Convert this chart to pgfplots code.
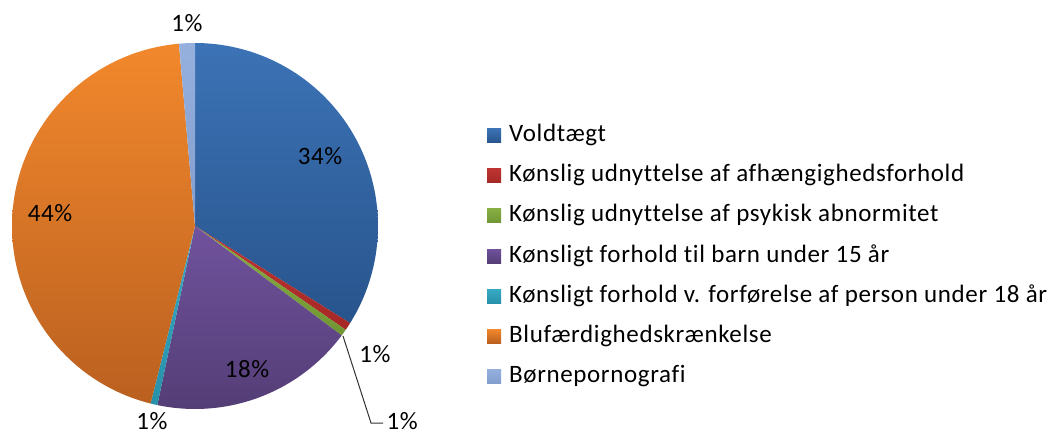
\documentclass[border=0pt]{standalone}
\usepackage{fontspec}
\setmainfont{Carlito}
\newfontfamily\legfont[LetterSpace=2.5, Ligatures={NoCommon}]{Carlito}
\usepackage{pgfplots}
\usepackage{pgfplotstable}
\pgfplotsset{compat=1.18}

% share of each category in percent, clockwise from 12 o'clock
\pgfplotstableread{
share
33.9
0.7
0.6
18.1
0.6
44.7
1.4
}\piedata

\definecolor{blueT}{RGB}{60,115,182}
\definecolor{blueB}{RGB}{40,84,140}
\definecolor{redT}{RGB}{190,52,50}
\definecolor{redB}{RGB}{165,40,38}
\definecolor{greenT}{RGB}{135,175,68}
\definecolor{greenB}{RGB}{112,150,52}
\definecolor{purpT}{RGB}{112,82,157}
\definecolor{purpB}{RGB}{84,62,118}
\definecolor{cyanT}{RGB}{55,170,195}
\definecolor{cyanB}{RGB}{40,145,170}
\definecolor{oranT}{RGB}{242,136,44}
\definecolor{oranB}{RGB}{186,96,32}
\definecolor{lblueT}{RGB}{150,176,222}
\definecolor{lblueB}{RGB}{130,158,205}

\newcommand{\cx}{195}
\newcommand{\cy}{211}
\newcommand{\rr}{183}
\newcommand{\lblfont}{\legfont\fontsize{25}{30}\selectfont}

\newcommand{\slice}[4]{%
  \addplot[draw=none, top color=#2, bottom color=#3,
    domain={\csname eA#1\endcsname}:{\csname sA#1\endcsname},
    samples=90, variable=\t]
    ({\cx+\rr*cos(\t)},{\cy+\rr*sin(\t)}) -- (\cx,\cy) -- cycle;
  \addlegendentry{#4}}

\begin{document}
\begin{tikzpicture}
\def\cum{0}
\pgfplotsforeachungrouped \i in {0,...,6}{%
  \pgfplotstablegetelem{\i}{share}\of\piedata
  \pgfmathsetmacro{\startang}{90-3.6*\cum}
  \pgfmathsetmacro{\cum}{\cum+\pgfplotsretval}
  \pgfmathsetmacro{\endang}{90-3.6*\cum}
  \expandafter\xdef\csname sA\i\endcsname{\startang}
  \expandafter\xdef\csname eA\i\endcsname{\endang}
}
\begin{axis}[
  x=1pt, y=1pt,
  xmin=0, xmax=1050, ymin=0, ymax=437,
  hide axis, clip=false,
  legend style={draw=none, fill=none, at={(axis cs:487,313.5)}, anchor=north west,
    inner sep=0pt, font=\lblfont, row sep=16.1pt,
    nodes={inner sep=0pt, text height=18pt, text depth=6pt}},
  legend cell align=left,
  legend image code/.code={%
    \path[#1, draw=none] (0pt,-7pt) rectangle (14pt,7pt);
    \path (22pt,0pt);},
  every node/.append style={inner sep=1pt},
]
\slice{0}{blueT}{blueB}{Voldtægt}
\slice{1}{redT}{redB}{Kønslig udnyttelse af afhængighedsforhold}
\slice{2}{greenT}{greenB}{Kønslig udnyttelse af psykisk abnormitet}
\slice{3}{purpT}{purpB}{Kønsligt forhold til barn under 15 år}
\slice{4}{cyanT}{cyanB}{Kønsligt forhold v. forførelse af person under 18 år}
\slice{5}{oranT}{oranB}{Blufærdighedskrænkelse}
\slice{6}{lblueT}{lblueB}{Børnepornografi}

\node[font=\lblfont] at (320,281) {34\%};
\node[font=\lblfont] at (50,224) {44\%};
\node[font=\lblfont] at (247,68) {18\%};
\node[font=\lblfont] at (187,414) {1\%};
\node[font=\lblfont] at (375,83) {1\%};
\node[font=\lblfont] at (152,16) {1\%};
\draw[black!80, line width=1pt] (343,101) -- (371,14) -- (383,14);
\node[font=\lblfont, anchor=west] at (383,16) {1\%};
\end{axis}
\path (current axis.south west) rectangle (current axis.north east);
\end{tikzpicture}
\end{document}
